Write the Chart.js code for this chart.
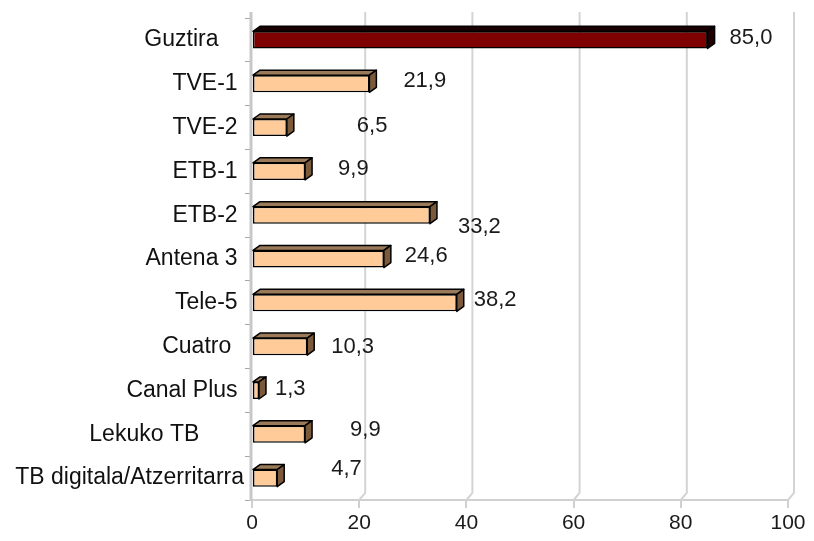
<!DOCTYPE html>
<html>
<head>
<meta charset="utf-8">
<script src="https://cdn.jsdelivr.net/npm/chart.js@4"></script>
<style>
html,body{margin:0;padding:0;background:#fff;}
#wrap{width:814px;height:541px;position:relative;}
</style>
</head>
<body>
<div id="wrap"><canvas id="c" width="814" height="541"></canvas></div>
<script>
const categories = ["Guztira    ","TVE-1 ","TVE-2 ","ETB-1 ","ETB-2 ","Antena 3 ","Tele-5 ","Cuatro  ","Canal Plus ","Lekuko TB       ","TB digitala/Atzerritarra"];
const values = [85.0, 21.9, 6.5, 9.9, 33.2, 24.6, 38.2, 10.3, 1.3, 9.9, 4.7];
const xTicks = [0, 20, 40, 60, 80, 100];

// label styling: horizontal gap (px) after the bar end and vertical nudge (px)
const labelGap = [22, 34, 70, 33, 28, 21, 17, 24, 16, 45, 54];
const labelDy  = [-1, -2, -1, -1, 13, -2, -2, 1, -1, -3, -8];

const FONT = "'Liberation Sans', Arial, sans-serif";
const DX = 7, DY = -5;

const colorsFront = values.map((v,i)=> i===0 ? '#7f0000' : '#ffcc99');
const colorsTop   = values.map((v,i)=> i===0 ? '#1a0000' : '#9a7a58');
const colorsSide  = values.map((v,i)=> i===0 ? '#200000' : '#7a5a3a');

const wallPlugin = {
  id:'wall',
  beforeDatasetsDraw(chart){
    const ctx = chart.ctx, xs = chart.scales.x, ca = chart.chartArea;
    ctx.save();
    ctx.strokeStyle = '#d4d4d4';
    ctx.lineWidth = 2;
    xTicks.forEach(t=>{
      if(t===0) return;
      const px = xs.getPixelForValue(t);
      ctx.beginPath();
      ctx.moveTo(px+DX-1, ca.top-6);
      ctx.lineTo(px+DX-1, ca.bottom+DY-2);
      ctx.lineTo(px, ca.bottom);
      ctx.stroke();
    });
    // left wall
    ctx.strokeStyle = '#c8c8c8';
    ctx.lineWidth = 3;
    const x0 = xs.getPixelForValue(0);
    ctx.beginPath();
    ctx.moveTo(x0-1, ca.top-6);
    ctx.lineTo(x0-1, ca.bottom+1);
    ctx.stroke();
    ctx.restore();
  },
  afterDatasetsDraw(chart){
    const ctx = chart.ctx;
    const meta = chart.getDatasetMeta(0);
    ctx.save();
    ctx.lineWidth = 1.5;
    ctx.strokeStyle = '#000';
    ctx.lineJoin = 'round';
    meta.data.forEach((el,i)=>{
      const p = el.getProps(['x','y','base','height'], true);
      const top = p.y - p.height/2, bot = p.y + p.height/2;
      const x = p.x, b = p.base;
      // top face
      ctx.fillStyle = colorsTop[i];
      ctx.beginPath();
      ctx.moveTo(b, top);
      ctx.lineTo(x, top);
      ctx.lineTo(x+DX, top+DY);
      ctx.lineTo(b+DX, top+DY);
      ctx.closePath();
      ctx.fill(); ctx.stroke();
      // side face
      ctx.fillStyle = colorsSide[i];
      ctx.beginPath();
      ctx.moveTo(x, top);
      ctx.lineTo(x+DX, top+DY);
      ctx.lineTo(x+DX, bot+DY);
      ctx.lineTo(x, bot);
      ctx.closePath();
      ctx.fill(); ctx.stroke();
      // value label
      ctx.fillStyle = '#1a1a1a';
      ctx.font = "22px " + FONT;
      ctx.textAlign = 'left';
      ctx.textBaseline = 'middle';
      const txt = values[i].toFixed(1).replace('.', ',');
      ctx.fillText(txt, x + labelGap[i], p.y + labelDy[i] - 1);
    });
    ctx.restore();
  }
};

new Chart(document.getElementById('c'), {
  type:'bar',
  data:{
    labels: categories,
    datasets:[{
      data: values,
      backgroundColor: colorsFront,
      borderColor:'#000',
      borderWidth:1.5,
      borderSkipped:false,
      categoryPercentage:1,
      barPercentage:0.39
    }]
  },
  options:{
    indexAxis:'y',
    responsive:false,
    animation:false,
    devicePixelRatio:1,
    layout:{padding:{top:18, right:26, bottom:0, left:0}},
    plugins:{legend:{display:false}, tooltip:{enabled:false}},
    scales:{
      x:{
        min:0, max:100,
        afterBuildTicks(s){ s.ticks = xTicks.map(v=>({value:v})); },
        grid:{drawOnChartArea:false, drawTicks:true, tickLength:8, color:'#d0d0d0', lineWidth:2},
        border:{display:true, color:'#d0d0d0', width:2},
        ticks:{font:{family:FONT, size:21}, color:'#1a1a1a', padding:3, maxRotation:0},
        afterFit(s){ s.height = 41; }
      },
      y:{
        grid:{offset:true, drawOnChartArea:false, drawTicks:true, tickLength:7, color:'#a8a8a8', lineWidth:1},
        border:{display:false},
        ticks:{font:{family:FONT, size:23}, color:'#111', padding:1, autoSkip:false},
        afterFit(s){ s.width = 252; }
      }
    }
  },
  plugins:[wallPlugin]
});
</script>
</body>
</html>
